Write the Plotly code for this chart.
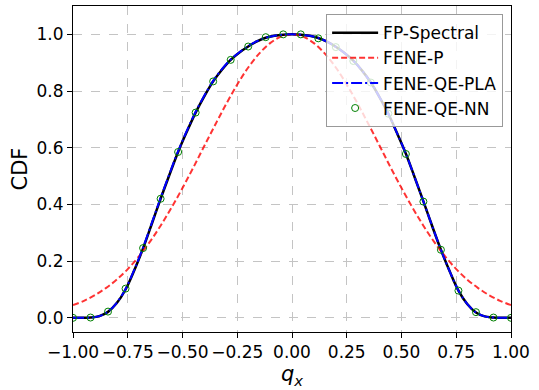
import plotly.graph_objects as go

# ---- data ----
x_curve = [-1.00, -0.96, -0.92, -0.88, -0.84, -0.80, -0.76, -0.72, -0.68, -0.64, -0.60,
           -0.56, -0.52, -0.48, -0.44, -0.40, -0.36, -0.32, -0.28, -0.24, -0.20, -0.16,
           -0.12, -0.08, -0.04, 0.00, 0.04, 0.08, 0.12, 0.16, 0.20, 0.24, 0.28, 0.32,
           0.36, 0.40, 0.44, 0.48, 0.52, 0.56, 0.60, 0.64, 0.68, 0.72, 0.76, 0.80,
           0.84, 0.88, 0.92, 0.96, 1.00]
fp_spectral = [0.000, 0.000, 0.001, 0.006, 0.021, 0.052, 0.100, 0.168, 0.245, 0.332, 0.420,
               0.504, 0.585, 0.657, 0.724, 0.782, 0.834, 0.875, 0.910, 0.936, 0.957, 0.975,
               0.988, 0.995, 0.999, 1.000, 0.999, 0.995, 0.987, 0.974, 0.956, 0.934, 0.907,
               0.872, 0.830, 0.778, 0.720, 0.651, 0.579, 0.496, 0.411, 0.324, 0.240, 0.164,
               0.096, 0.049, 0.019, 0.005, 0.001, 0.000, 0.000]
fene_qe_pla = [0.000, 0.000, 0.001, 0.006, 0.022, 0.053, 0.102, 0.170, 0.248, 0.335, 0.423,
               0.507, 0.588, 0.660, 0.727, 0.784, 0.836, 0.877, 0.911, 0.937, 0.958, 0.976,
               0.988, 0.995, 0.999, 1.000, 0.999, 0.995, 0.987, 0.974, 0.956, 0.934, 0.907,
               0.872, 0.830, 0.778, 0.720, 0.651, 0.579, 0.496, 0.411, 0.324, 0.240, 0.164,
               0.096, 0.049, 0.019, 0.005, 0.001, 0.000, 0.000]

x_fenep = [-1.00, -0.95, -0.90, -0.85, -0.80, -0.75, -0.70, -0.65, -0.60, -0.55, -0.50,
           -0.45, -0.40, -0.35, -0.30, -0.25, -0.20, -0.15, -0.10, -0.05, 0.00, 0.05,
           0.10, 0.15, 0.20, 0.25, 0.30, 0.35, 0.40, 0.45, 0.50, 0.55, 0.60, 0.65,
           0.70, 0.75, 0.80, 0.85, 0.90, 0.95, 1.00]
fene_p = [0.045, 0.060, 0.080, 0.105, 0.135, 0.172, 0.216, 0.267, 0.325, 0.389, 0.458,
          0.531, 0.607, 0.682, 0.755, 0.823, 0.883, 0.932, 0.969, 0.992, 1.000, 0.992,
          0.969, 0.932, 0.883, 0.823, 0.755, 0.682, 0.607, 0.531, 0.458, 0.389, 0.325,
          0.267, 0.216, 0.172, 0.135, 0.105, 0.080, 0.060, 0.045]

x_nn = [-1.00, -0.92, -0.84, -0.76, -0.68, -0.60, -0.52, -0.44, -0.36, -0.28, -0.20, -0.12,
        -0.04, 0.04, 0.12, 0.20, 0.28, 0.36, 0.44, 0.52, 0.60, 0.68, 0.76, 0.84, 0.92, 1.00]
fene_qe_nn = [0.000, 0.001, 0.022, 0.103, 0.246, 0.420, 0.585, 0.724, 0.834, 0.910, 0.957,
              0.990, 1.000, 1.000, 0.986, 0.955, 0.906, 0.830, 0.720, 0.578, 0.410, 0.240,
              0.096, 0.020, 0.001, 0.000]

x_tickvals = [-1.00, -0.75, -0.50, -0.25, 0.00, 0.25, 0.50, 0.75, 1.00]
x_ticktext = ["\u22121.00", "\u22120.75", "\u22120.50", "\u22120.25", "0.00", "0.25", "0.50", "0.75", "1.00"]
y_tickvals = [0.0, 0.2, 0.4, 0.6, 0.8, 1.0]
y_ticktext = ["0.0", "0.2", "0.4", "0.6", "0.8", "1.0"]

FONT = "DejaVu Sans"

fig = go.Figure()
fig.add_trace(go.Scatter(x=x_curve, y=fp_spectral, mode="lines", name="FP-Spectral",
                         line=dict(color="black", width=2.5, shape="spline")))
fig.add_trace(go.Scatter(x=x_fenep, y=fene_p, mode="lines", name="FENE-P",
                         line=dict(color="rgba(255,0,0,0.8)", width=2, dash="6px,3px", shape="spline")))
fig.add_trace(go.Scatter(x=x_curve, y=fene_qe_pla, mode="lines", name="FENE-QE-PLA",
                         line=dict(color="blue", width=2, dash="11px,3px,2px,3px", shape="spline")))
fig.add_trace(go.Scatter(x=x_nn, y=fene_qe_nn, mode="markers", name="FENE-QE-NN",
                         marker=dict(symbol="circle-open", size=7, color="green",
                                     line=dict(width=1, color="green"))))

axis_common = dict(showline=True, linecolor="black", linewidth=1, mirror=True,
                   ticks="outside", ticklen=5, tickcolor="black", tickwidth=1,
                   showgrid=True, gridcolor="#c4c4c4", griddash="dash", gridwidth=1,
                   zeroline=False, tickfont=dict(family=FONT, size=17, color="black"))

fig.update_xaxes(range=[-1.0, 1.0], tickvals=x_tickvals, ticktext=x_ticktext,
                 title=dict(text="<i>q</i><sub><i>x</i></sub>",
                            font=dict(family=FONT, size=21, color="black"), standoff=2),
                 **axis_common)
fig.update_yaxes(range=[-0.05, 1.1], tickvals=y_tickvals, ticktext=y_ticktext,
                 title=dict(text="CDF", font=dict(family=FONT, size=21, color="black"), standoff=3),
                 **axis_common)

fig.update_layout(
    width=539, height=390,
    margin=dict(l=73, r=28, t=6, b=58, autoexpand=False),
    paper_bgcolor="white", plot_bgcolor="white",
    font=dict(family=FONT, size=17, color="black"),
    showlegend=True,
    legend=dict(x=0.982, y=0.975, xanchor="right", yanchor="top",
                bgcolor="rgba(255,255,255,0.8)", bordercolor="#999999", borderwidth=1,
                font=dict(family=FONT, size=17, color="black"),
                itemwidth=46, tracegroupgap=0),
)

fig.write_html("out.html", config={"displayModeBar": False},
               post_script="document.body.style.margin='0';")
